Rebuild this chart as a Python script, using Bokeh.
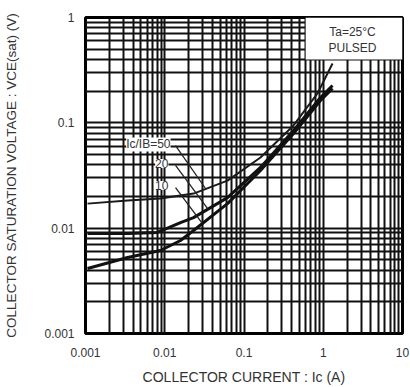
from bokeh.plotting import figure
from bokeh.models import FixedTicker, CustomJSTickFormatter, Label, BoxAnnotation
from bokeh.embed import file_html
from bokeh.resources import INLINE

# ---- data ----
ic_50 = [0.00106, 0.0034, 0.00883, 0.0231, 0.0619, 0.1615, 0.4217, 0.846, 1.309]
vce_50 = [0.0171, 0.0183, 0.0191, 0.0213, 0.0283, 0.0469, 0.0944, 0.190, 0.366]

ic_20 = [0.00106, 0.0034, 0.0081, 0.0158, 0.0231, 0.0619, 0.1615, 0.4217, 0.923, 1.309]
vce_20 = [0.0089, 0.0089, 0.0091, 0.0113, 0.0126, 0.0195, 0.0377, 0.0846, 0.174, 0.226]

ic_10 = [0.00106, 0.0034, 0.00883, 0.0158, 0.0231, 0.0619, 0.1615, 0.4217, 0.923, 1.309]
vce_10 = [0.00414, 0.00526, 0.00614, 0.00764, 0.0095, 0.0171, 0.0353, 0.0792, 0.163, 0.212]

x_ticks = [0.001, 0.01, 0.1, 1, 10]
y_ticks = [0.001, 0.01, 0.1, 1]

curve_labels = ["Ic/IB=50", "20", "10"]
label_x = [0.01183, 0.01114, 0.01114]
label_y = [0.0623, 0.0411, 0.0254]
leader_x0 = [0.01368, 0.01368, 0.01368]
leader_y0 = [0.0609, 0.0394, 0.0243]
leader_x1 = [0.0327, 0.0346, 0.0299]
leader_y1 = [0.0238, 0.01538, 0.01107]

FONT = "Liberation Sans"
TXT = "#333333"


def minors(lo_exp, hi_exp):
    out = []
    for e in range(lo_exp, hi_exp):
        for k in range(2, 10):
            out.append(k * 10.0 ** e)
    return out


p = figure(width=410, height=387, x_axis_type="log", y_axis_type="log",
           x_range=(0.001, 10), y_range=(0.001, 1),
           output_backend="svg", toolbar_location=None,
           min_border_left=85, min_border_right=8, min_border_top=17, min_border_bottom=54)
p.background_fill_color = "white"
p.border_fill_color = "white"
p.outline_line_color = "black"
p.outline_line_width = 3

p.xaxis.ticker = FixedTicker(ticks=x_ticks, minor_ticks=minors(-3, 1))
p.yaxis.ticker = FixedTicker(ticks=y_ticks, minor_ticks=minors(-3, 0))
fmt = CustomJSTickFormatter(code="return Number(tick.toPrecision(2)).toString();")
p.xaxis.formatter = fmt
p.yaxis.formatter = fmt

for ax in (p.xaxis, p.yaxis):
    ax.axis_line_color = None
    ax.major_tick_line_color = None
    ax.minor_tick_line_color = None
    ax.major_label_text_font = FONT
    ax.major_label_text_font_size = "12px"
    ax.major_label_text_color = TXT
    ax.axis_label_text_font = FONT
    ax.axis_label_text_font_style = "normal"
    ax.axis_label_text_color = TXT
p.xaxis.major_label_standoff = 8
p.yaxis.major_label_standoff = 5

p.yaxis.axis_label = "COLLECTOR SATURATION VOLTAGE : VCE(sat) (V)"
p.yaxis.axis_label_text_font_size = "13.5px"
p.yaxis.axis_label_standoff = 22

p.xaxis.axis_label = "COLLECTOR CURRENT : Ic (A)"
p.xaxis.axis_label_text_font_size = "14px"
p.xaxis.axis_label_standoff = 9

for g in (p.xgrid, p.ygrid):
    g.grid_line_color = "#111111"
    g.grid_line_width = 2
    g.grid_line_alpha = 1
    g.minor_grid_line_color = "#111111"
    g.minor_grid_line_width = 2
    g.minor_grid_line_alpha = 1

# curves
p.line(ic_50, vce_50, line_color="#1a1a1a", line_width=2)
p.line(ic_20, vce_20, line_color="#111111", line_width=3)
p.line(ic_10, vce_10, line_color="#111111", line_width=3)

# leader lines
p.segment(leader_x0, leader_y0, leader_x1, leader_y1, line_color="#222222", line_width=1.3)

for t, lx, ly in zip(curve_labels, label_x, label_y):
    p.add_layout(Label(x=lx, y=ly, text=t, text_align="right", text_baseline="middle",
                       text_font=FONT, text_font_size="12px", text_color=TXT,
                       background_fill_color="white", background_fill_alpha=1))

# Ta box
p.add_layout(BoxAnnotation(left=0.6, right=10, bottom=0.4, top=1,
                           fill_color="white", fill_alpha=1, line_color=None))
p.add_layout(Label(x=2.34, y=0.736, text="Ta=25°C", text_align="center", text_baseline="middle",
                   text_font=FONT, text_font_size="12px", text_color=TXT))
p.add_layout(Label(x=2.34, y=0.519, text="PULSED", text_align="center", text_baseline="middle",
                   text_font=FONT, text_font_size="12px", text_color=TXT))

open("out.html", "w").write(file_html(p, INLINE))
